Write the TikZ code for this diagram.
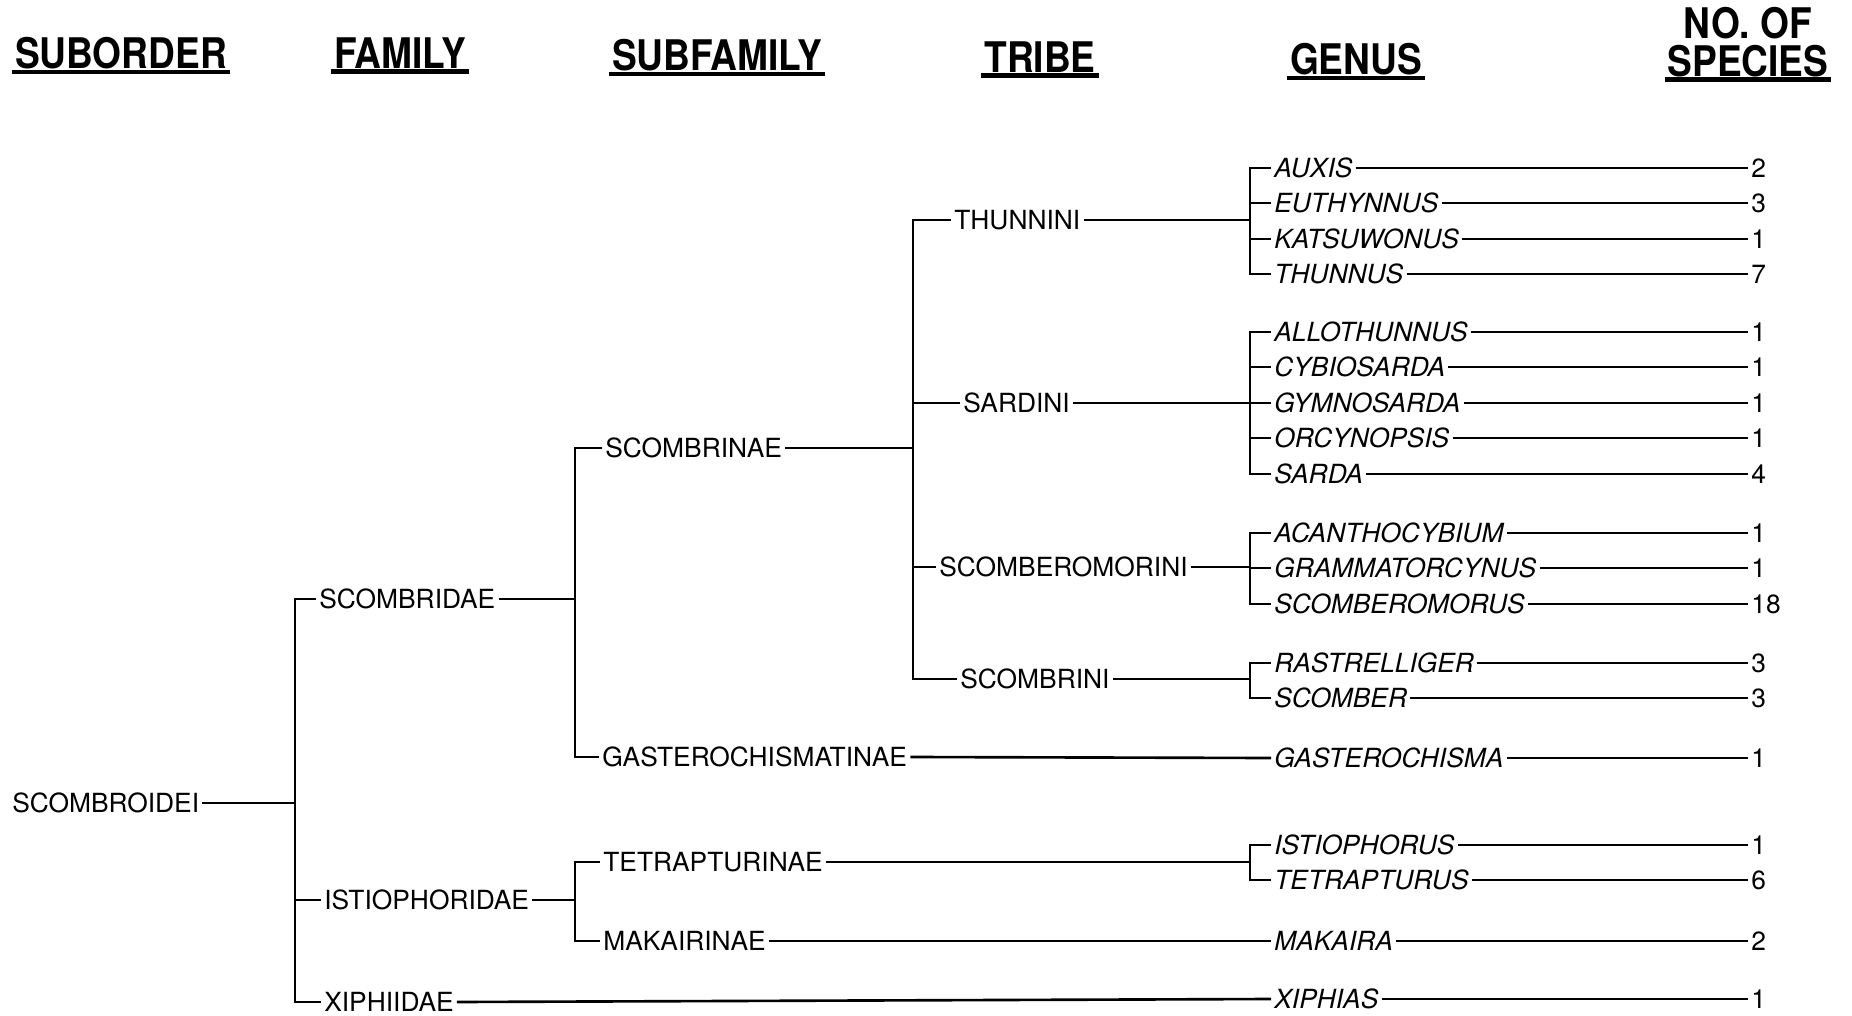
\documentclass[tikz,border=0pt]{standalone}
\usepackage{fontspec}
\setmainfont{TeX Gyre Heros}
\newfontfamily\headfont[FakeStretch=0.88]{TeX Gyre Heros}
\usetikzlibrary{calc}
\tikzset{
    taxon/.style={anchor=west, inner sep=1.7pt, font=\fontsize{15}{18}\selectfont},
    genus/.style={taxon, font=\fontsize{15}{18}\selectfont\itshape},
    species/.style={taxon},
    heading/.style={inner sep=1.5pt, align=center,
        font=\headfont\bfseries\fontsize{24}{21.5}\selectfont},
    branch/.style={draw=black, line width=1.5pt},
    headrule/.style={draw=black, line width=2.6pt},
}

\begin{document}
\begin{tikzpicture}[x=0.02cm, y=-0.02cm]
\useasboundingbox (0,0) rectangle (1852,1016);
% column headings
\node[heading] (h-sub) at (121,53) {SUBORDER};
\node[heading] (h-fam) at (400,53) {FAMILY};
\node[heading] (h-subfam) at (717,55) {SUBFAMILY};
\node[heading] (h-tribe) at (1040,57) {TRIBE};
\node[heading] (h-genus) at (1356,59) {GENUS};
\node[heading] (h-spec) at (1748,42) {NO. OF\\SPECIES};
\draw[headrule] (h-sub.south west) -- (h-sub.south east);
\draw[headrule] (h-fam.south west) -- (h-fam.south east);
\draw[headrule] (h-subfam.south west) -- (h-subfam.south east);
\draw[headrule] (h-tribe.south west) -- (h-tribe.south east);
\draw[headrule] (h-genus.south west) -- (h-genus.south east);
\draw[headrule] (h-spec.south west) -- (h-spec.south east);

% bar positions
\coordinate (famx) at (295,0);
\coordinate (subx) at (575,0);
\coordinate (tribx) at (913,0);
\coordinate (genx) at (1250,0);

% suborder and families
\node[taxon] (scombroidei) at (9,803) {SCOMBROIDEI};
\node[taxon] (scombridae) at (316,599) {SCOMBRIDAE};
\node[taxon] (istiophoridae) at (321,900) {ISTIOPHORIDAE};
\node[taxon] (xiphiidae) at (321,1002) {XIPHIIDAE};

% subfamilies
\node[taxon] (scombrinae) at (602,448) {SCOMBRINAE};
\node[taxon] (gasterochismatinae) at (599,757) {GASTEROCHISMATINAE};
\node[taxon] (tetrapturinae) at (600,862) {TETRAPTURINAE};
\node[taxon] (makairinae) at (600,941) {MAKAIRINAE};

% tribes
\node[taxon] (thunnini) at (951,220) {THUNNINI};
\node[taxon] (sardini) at (960,403) {SARDINI};
\node[taxon] (scomberomorini) at (936,567) {SCOMBEROMORINI};
\node[taxon] (scombrini) at (957,679) {SCOMBRINI};

% genera
\node[genus] (auxis) at (1271,168) {AUXIS};
\node[genus] (euthynnus) at (1271,203) {EUTHYNNUS};
\node[genus] (katsuwonus) at (1271,239) {KATSUWONUS};
\node[genus] (thunnus) at (1271,274) {THUNNUS};
\node[genus] (allothunnus) at (1271,332) {ALLOTHUNNUS};
\node[genus] (cybiosarda) at (1271,367) {CYBIOSARDA};
\node[genus] (gymnosarda) at (1271,403) {GYMNOSARDA};
\node[genus] (orcynopsis) at (1271,438) {ORCYNOPSIS};
\node[genus] (sarda) at (1271,474) {SARDA};
\node[genus] (acanthocybium) at (1271,533) {ACANTHOCYBIUM};
\node[genus] (grammatorcynus) at (1271,568) {GRAMMATORCYNUS};
\node[genus] (scomberomorus) at (1271,604) {SCOMBEROMORUS};
\node[genus] (rastrelliger) at (1271,663) {RASTRELLIGER};
\node[genus] (scomber) at (1271,698) {SCOMBER};
\node[genus] (gasterochisma) at (1271,758) {GASTEROCHISMA};
\node[genus] (istiophorus) at (1271,845) {ISTIOPHORUS};
\node[genus] (tetrapturus) at (1271,880) {TETRAPTURUS};
\node[genus] (makaira) at (1271,941) {MAKAIRA};
\node[genus] (xiphias) at (1271,999) {XIPHIAS};

% species counts
\node[species] (n-auxis) at (1748,168) {2};
\node[species] (n-euthynnus) at (1748,203) {3};
\node[species] (n-katsuwonus) at (1748,239) {1};
\node[species] (n-thunnus) at (1748,274) {7};
\node[species] (n-allothunnus) at (1748,332) {1};
\node[species] (n-cybiosarda) at (1748,367) {1};
\node[species] (n-gymnosarda) at (1748,403) {1};
\node[species] (n-orcynopsis) at (1748,438) {1};
\node[species] (n-sarda) at (1748,474) {4};
\node[species] (n-acanthocybium) at (1748,533) {1};
\node[species] (n-grammatorcynus) at (1748,568) {1};
\node[species] (n-scomberomorus) at (1748,604) {18};
\node[species] (n-rastrelliger) at (1748,663) {3};
\node[species] (n-scomber) at (1748,698) {3};
\node[species] (n-gasterochisma) at (1748,758) {1};
\node[species] (n-istiophorus) at (1748,845) {1};
\node[species] (n-tetrapturus) at (1748,880) {6};
\node[species] (n-makaira) at (1748,941) {2};
\node[species] (n-xiphias) at (1748,999) {1};

% suborder -> families
\draw[branch] (scombroidei.east) -- (scombroidei.east -| famx);
\draw[branch] (scombridae.west) -| (famx |- xiphiidae.west) -- (xiphiidae.west);
\draw[branch] (istiophoridae.west) -- (istiophoridae.west -| famx);

% families -> subfamilies
\draw[branch] (scombridae.east) -- (scombridae.east -| subx);
\draw[branch] (scombrinae.west) -| (subx |- gasterochismatinae.west) -- (gasterochismatinae.west);
\draw[branch] (istiophoridae.east) -- (istiophoridae.east -| subx);
\draw[branch] (tetrapturinae.west) -| (subx |- makairinae.west) -- (makairinae.west);
\draw[branch] (xiphiidae.east) -- (xiphias.west);

% subfamilies -> tribes
\draw[branch] (scombrinae.east) -- (scombrinae.east -| tribx);
\draw[branch] (thunnini.west) -| (tribx |- scombrini.west) -- (scombrini.west);
\draw[branch] (sardini.west) -- (sardini.west -| tribx);
\draw[branch] (scomberomorini.west) -- (scomberomorini.west -| tribx);
\draw[branch] (gasterochismatinae.east) -- (gasterochisma.west);
\draw[branch] (tetrapturinae.east) -- (tetrapturinae.east -| genx);
\draw[branch] (makairinae.east) -- (makaira.west);

% tribes -> genera
\draw[branch] (thunnini.east) -- (thunnini.east -| genx);
\draw[branch] (auxis.west) -| (genx |- thunnus.west) -- (thunnus.west);
\draw[branch] (euthynnus.west) -- (euthynnus.west -| genx);
\draw[branch] (katsuwonus.west) -- (katsuwonus.west -| genx);
\draw[branch] (sardini.east) -- (sardini.east -| genx);
\draw[branch] (allothunnus.west) -| (genx |- sarda.west) -- (sarda.west);
\draw[branch] (cybiosarda.west) -- (cybiosarda.west -| genx);
\draw[branch] (gymnosarda.west) -- (gymnosarda.west -| genx);
\draw[branch] (orcynopsis.west) -- (orcynopsis.west -| genx);
\draw[branch] (scomberomorini.east) -- (scomberomorini.east -| genx);
\draw[branch] (acanthocybium.west) -| (genx |- scomberomorus.west) -- (scomberomorus.west);
\draw[branch] (grammatorcynus.west) -- (grammatorcynus.west -| genx);
\draw[branch] (scombrini.east) -- (scombrini.east -| genx);
\draw[branch] (rastrelliger.west) -| (genx |- scomber.west) -- (scomber.west);
\draw[branch] (istiophorus.west) -| (genx |- tetrapturus.west) -- (tetrapturus.west);

% genera -> species counts
\draw[branch] (auxis.east) -- (n-auxis.west);
\draw[branch] (euthynnus.east) -- (n-euthynnus.west);
\draw[branch] (katsuwonus.east) -- (n-katsuwonus.west);
\draw[branch] (thunnus.east) -- (n-thunnus.west);
\draw[branch] (allothunnus.east) -- (n-allothunnus.west);
\draw[branch] (cybiosarda.east) -- (n-cybiosarda.west);
\draw[branch] (gymnosarda.east) -- (n-gymnosarda.west);
\draw[branch] (orcynopsis.east) -- (n-orcynopsis.west);
\draw[branch] (sarda.east) -- (n-sarda.west);
\draw[branch] (acanthocybium.east) -- (n-acanthocybium.west);
\draw[branch] (grammatorcynus.east) -- (n-grammatorcynus.west);
\draw[branch] (scomberomorus.east) -- (n-scomberomorus.west);
\draw[branch] (rastrelliger.east) -- (n-rastrelliger.west);
\draw[branch] (scomber.east) -- (n-scomber.west);
\draw[branch] (gasterochisma.east) -- (n-gasterochisma.west);
\draw[branch] (istiophorus.east) -- (n-istiophorus.west);
\draw[branch] (tetrapturus.east) -- (n-tetrapturus.west);
\draw[branch] (makaira.east) -- (n-makaira.west);
\draw[branch] (xiphias.east) -- (n-xiphias.west);
\end{tikzpicture}
\end{document}
